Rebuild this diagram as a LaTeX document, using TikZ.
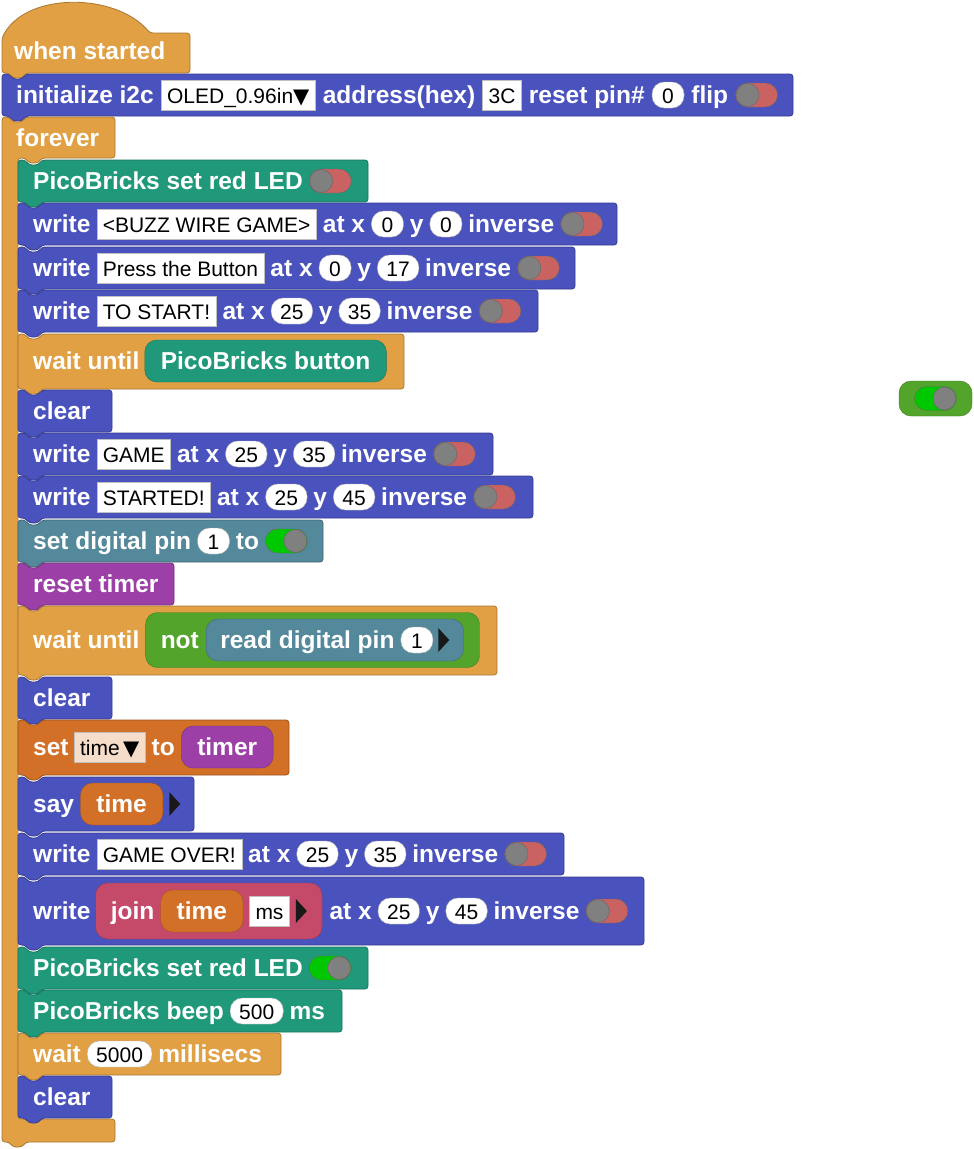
\documentclass[tikz,border=0pt]{standalone}
\usepackage{fontspec}
\setmainfont{Liberation Sans}
\newfontfamily\symfont{DejaVu Sans}
\usetikzlibrary{positioning,fit,calc}
\definecolor{ctrlorange}{HTML}{E1A044}
\definecolor{oledblue}{HTML}{4A52BE}
\definecolor{picoteal}{HTML}{1F997A}
\definecolor{pinsteel}{HTML}{54889B}
\definecolor{timerpurple}{HTML}{9C40A8}
\definecolor{opgreen}{HTML}{52A52A}
\definecolor{varorange}{HTML}{D27028}
\definecolor{joinpink}{HTML}{C54A6A}
\definecolor{togred}{HTML}{CA6262}
\definecolor{togon}{HTML}{00C800}
\definecolor{varfield}{HTML}{F6DDC9}
\pgfdeclarelayer{blocks}
\pgfdeclarelayer{outer}
\pgfdeclarelayer{inner}
\pgfsetlayers{blocks,outer,inner,main}
\newcommand{\dropmark}{{\symfont\fontsize{21}{21}\selectfont ▼}}
\newcommand{\stackblk}[5]{%
  \path[blockline=#1] (#2,#3) -- ++(7,0) -- ++(4,5) -- ++(9,0) -- ++(4,-5)
    -- (#4,#3) -- (#4,#5) -- (#2+24,#5) -- ++(-4,5) -- ++(-9,0) -- ++(-4,-5)
    -- (#2,#5) -- cycle;}
\newcommand{\writeline}[5]{%
  \node[lbl, anchor=base west] (#1lbl) at (33,#2) {write};
  \node[txtfield, base right=6pt of #1lbl] (#1txt) {#3};
  \node[lbl, base right=6pt of #1txt] (#1at) {at x};
  \node[numfield, base right=6pt of #1at] (#1xv) {#4};
  \node[lbl, base right=6pt of #1xv] (#1y) {y};
  \node[numfield, base right=6pt of #1y] (#1yv) {#5};
  \node[lbl, base right=6pt of #1yv] (#1inv) {inverse};
  \node[togoff, base right=6pt of #1inv] (#1tog) {};}
\tikzset{
  blockline/.style={
    draw=#1!75!black,
    fill=#1,
    line width=0.8pt,
    rounded corners=3pt
  },
  lbl/.style={
    text=white,
    inner sep=0pt,
    font=\fontsize{24.5}{29}\selectfont\bfseries
  },
  txtfield/.style={
    fill=white,
    draw=black!25,
    inner xsep=6pt,
    inner ysep=0pt,
    text height=23.5pt,
    text depth=6.5pt,
    font=\fontsize{21}{25}\selectfont
  },
  numfield/.style={
    fill=white,
    draw=black!30,
    rounded corners=12pt,
    inner xsep=9pt,
    inner ysep=0pt,
    minimum width=32pt,
    text height=21.5pt,
    text depth=4.5pt,
    font=\fontsize{21}{25}\selectfont
  },
  toggle/.style={
    draw=black!60,
    rounded corners=12pt,
    minimum width=42pt,
    inner sep=0pt,
    text height=20.5pt,
    text depth=3.5pt
  },
  togoff/.style={
    toggle,
    fill=togred,
    path picture={\filldraw[fill=gray, draw=black!60]
      ([xshift=12pt]path picture bounding box.west) circle (11.5pt);}
  },
  togon/.style={
    toggle,
    fill=togon,
    path picture={\filldraw[fill=gray, draw=black!60]
      ([xshift=-12pt]path picture bounding box.east) circle (11.5pt);}
  },
  reporter/.style={
    fill=#1,
    draw=#1!75!black,
    rounded corners=12pt,
    text=white,
    inner xsep=16pt,
    inner ysep=0pt,
    text height=29.5pt,
    text depth=12.5pt,
    font=\fontsize{24.5}{29}\selectfont\bfseries
  },
  wrap/.style={
    fill=#1,
    draw=#1!75!black,
    rounded corners=12pt,
    inner xsep=15pt,
    inner ysep=0pt
  },
  playtip/.style={
    minimum width=11pt,
    minimum height=24pt,
    inner sep=0pt,
    path picture={\fill[black!90] (path picture bounding box.north west)
      -- (path picture bounding box.east)
      -- (path picture bounding box.south west) -- cycle;}
  }
}
\begin{document}
\begin{tikzpicture}[x=1pt,y=-1pt]
\useasboundingbox (0,0) rectangle (974,1149);

\begin{pgfonlayer}{blocks}
\fill[white] (0,0) rectangle (974,1149);
% hat, init and the forever loop
\path[blockline=ctrlorange] (2,73) -- (2,38) .. controls (25,-8) and (115,-8) .. (150,33)
  -- (190,33) -- (190,73) -- (26,73) -- ++(-4,5) -- ++(-9,0) -- ++(-4,-5) -- cycle;
\stackblk{oledblue}{2}{74}{793}{116}
\path[blockline=ctrlorange] (2,117) -- ++(7,0) -- ++(4,5) -- ++(9,0) -- ++(4,-5)
  -- (115,117) -- (115,158) -- (42,158) -- ++(-4,5) -- ++(-9,0) -- ++(-4,-5)
  -- (18,158) -- (18,1119) -- (115,1119) -- (115,1142) -- (26,1142)
  -- ++(-4,5) -- ++(-9,0) -- ++(-4,-5) -- (2,1142) -- cycle;
% body of the loop
\stackblk{picoteal}{18}{160}{368}{202}
\stackblk{oledblue}{18}{203}{617}{245}
\stackblk{oledblue}{18}{247}{575}{289}
\stackblk{oledblue}{18}{290}{538}{332}
\stackblk{ctrlorange}{18}{334}{404}{389}
\stackblk{oledblue}{18}{390}{112}{432}
\stackblk{oledblue}{18}{433}{493}{475}
\stackblk{oledblue}{18}{476}{533}{518}
\stackblk{pinsteel}{18}{520}{323}{562}
\stackblk{timerpurple}{18}{563}{174}{605}
\stackblk{ctrlorange}{18}{606}{497}{675}
\stackblk{oledblue}{18}{677}{112}{719}
\stackblk{varorange}{18}{720}{289}{775}
\stackblk{oledblue}{18}{777}{194}{831}
\stackblk{oledblue}{18}{833}{564}{875}
\stackblk{oledblue}{18}{877}{644}{945}
\stackblk{picoteal}{18}{947}{368}{989}
\stackblk{picoteal}{18}{990}{342}{1032}
\stackblk{ctrlorange}{18}{1033}{281}{1075}
\stackblk{oledblue}{18}{1076}{112}{1118}
\end{pgfonlayer}

\node[lbl, anchor=base west] (hatlbl) at (14,59) {when started};

\node[lbl, anchor=base west] (initlbl) at (16,103.5) {initialize i2c};
\node[txtfield, base right=7pt of initlbl] (initdev) {OLED\_0.96in\dropmark};
\node[lbl, base right=7pt of initdev] (initaddr) {address(hex)};
\node[txtfield, base right=7pt of initaddr] (inithex) {3C};
\node[lbl, base right=7pt of inithex] (initrst) {reset pin\#};
\node[numfield, base right=7pt of initrst] (initpin) {0};
\node[lbl, base right=7pt of initpin] (initflip) {flip};
\node[togoff, base right=7pt of initflip] (inittog) {};

\node[lbl, anchor=base west] (foreverlbl) at (16,146) {forever};

\node[lbl, anchor=base west] (led1lbl) at (33,189.5) {PicoBricks set red LED};
\node[togoff, base right=6pt of led1lbl] (led1tog) {};

\writeline{buzz}{232.5}{<BUZZ WIRE GAME>}{0}{0}
\writeline{press}{276.5}{Press the Button}{0}{17}
\writeline{tostart}{319.5}{TO START!}{25}{35}

\node[lbl, anchor=base west] (waitbtnlbl) at (33,369.5) {wait until};
\node[reporter=picoteal, base right=5pt of waitbtnlbl] (waitbtnrep) {PicoBricks button};

\node[lbl, anchor=base west] (clr1lbl) at (33,419.5) {clear};

\writeline{game}{462.5}{GAME}{25}{35}
\writeline{started}{505.5}{STARTED!}{25}{45}

\node[lbl, anchor=base west] (pinsetlbl) at (33,549.5) {set digital pin};
\node[numfield, base right=6pt of pinsetlbl] (pinsetnum) {1};
\node[lbl, base right=6pt of pinsetnum] (pinsetto) {to};
\node[togon, base right=6pt of pinsetto] (pinsettog) {};

\node[lbl, anchor=base west] (rstlbl) at (33,592.5) {reset timer};

% wait until not (read digital pin)
\node[lbl, anchor=base west] (waitpinlbl) at (33,648.5) {wait until};
\node[lbl, base right=21pt of waitpinlbl] (waitpinnot) {not};
\node[lbl, base right=21pt of waitpinnot] (waitpinrd) {read digital pin};
\node[numfield, base right=6pt of waitpinrd] (waitpinnum) {1};
\node[playtip, right=5pt of waitpinnum] (waitpintip) {};
\begin{pgfonlayer}{outer}
\node[wrap=opgreen, fit={($(waitpinnot.base west)+(0,19)$) ($(waitpinnot.base -| waitpintip.east)+(15,-36)$)}] (waitpinnotrep) {};
\end{pgfonlayer}
\begin{pgfonlayer}{inner}
\node[wrap=pinsteel, inner xsep=14pt, fit={($(waitpinrd.base west)+(0,12.5)$) ($(waitpinrd.base -| waitpintip.east)+(0,-29.5)$)}] (waitpinrdrep) {};
\end{pgfonlayer}

\node[lbl, anchor=base west] (clr2lbl) at (33,706.5) {clear};

\node[lbl, anchor=base west] (settimelbl) at (33,755.5) {set};
\node[txtfield, fill=varfield, base right=5pt of settimelbl] (settimevar) {time\,\dropmark};
\node[lbl, base right=6pt of settimevar] (settimeto) {to};
\node[reporter=timerpurple, base right=6pt of settimeto] (settimerep) {timer};

\node[lbl, anchor=base west] (saylbl) at (33,812.5) {say};
\node[reporter=varorange, base right=6pt of saylbl] (sayrep) {time};
\node[playtip, right=6pt of sayrep] (saytip) {};

\writeline{over}{862.5}{GAME OVER!}{25}{35}

% write (join time ms)
\node[lbl, anchor=base west] (joinwlbl) at (33,919.5) {write};
\node[lbl, base right=20pt of joinwlbl] (joinwjn) {join};
\node[reporter=varorange, base right=6pt of joinwjn] (joinwrep) {time};
\node[txtfield, base right=6pt of joinwrep] (joinwms) {ms};
\node[playtip, right=6pt of joinwms] (joinwtip) {};
\begin{pgfonlayer}{outer}
\node[wrap=joinpink, fit={($(joinwjn.base west)+(0,19.5)$) ($(joinwjn.base -| joinwtip.east)+(0,-36.5)$)}] (joinwwrap) {};
\end{pgfonlayer}
\node[lbl, anchor=base west] (joinwat) at ($(joinwwrap.east |- joinwlbl.base)+(7,0)$) {at x};
\node[numfield, base right=6pt of joinwat] (joinwxv) {25};
\node[lbl, base right=6pt of joinwxv] (joinwy) {y};
\node[numfield, base right=6pt of joinwy] (joinwyv) {45};
\node[lbl, base right=6pt of joinwyv] (joinwinv) {inverse};
\node[togoff, base right=6pt of joinwinv] (joinwtog) {};

\node[lbl, anchor=base west] (led2lbl) at (33,976.5) {PicoBricks set red LED};
\node[togon, base right=6pt of led2lbl] (led2tog) {};

\node[lbl, anchor=base west] (beeplbl) at (33,1019.5) {PicoBricks beep};
\node[numfield, base right=6pt of beeplbl] (beepnum) {500};
\node[lbl, base right=6pt of beepnum] (beepms) {ms};

\node[lbl, anchor=base west] (pauselbl) at (33,1062.5) {wait};
\node[numfield, base right=6pt of pauselbl] (pausenum) {5000};
\node[lbl, base right=6pt of pausenum] (pausems) {millisecs};

\node[lbl, anchor=base west] (clr3lbl) at (33,1105.5) {clear};

% loose boolean
\node[wrap=opgreen, minimum width=73pt, minimum height=35pt] (loosebool) at (935.5,398.5) {};
\node[togon] (loosetog) at (loosebool.center) {};
\end{tikzpicture}
\end{document}
